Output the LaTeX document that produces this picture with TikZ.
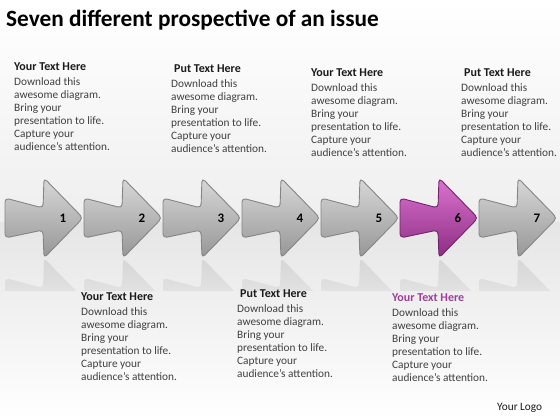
\documentclass[tikz,border=0pt]{standalone}
\usepackage{fontspec}
\setmainfont{Carlito}
\usetikzlibrary{fadings}
\definecolor{headc}{HTML}{1A1A1A}
\definecolor{bodyc}{HTML}{404040}
\definecolor{purph}{HTML}{9E3F98}
\definecolor{gtop}{HTML}{D8D8D8}
\definecolor{gbot}{HTML}{969696}
\definecolor{gedge}{HTML}{858585}
\definecolor{ptop}{HTML}{DB74D0}
\definecolor{pbot}{HTML}{8C2C82}
\definecolor{pedge}{HTML}{74226C}
\tikzset{
  chev/.pic={\path[pic actions, rounded corners=4pt]
      (0,-20) -- (38,-10) -- (39,-40) -- (78,0) -- (39,40) -- (38,12) -- (0,20) -- cycle;},
  grayarrow/.style={draw=gedge, line width=0.9pt, top color=gtop, bottom color=gbot},
  purparrow/.style={draw=pedge, line width=0.9pt, top color=ptop, bottom color=pbot},
  reflect/.style={fill=gray!60, path fading=south, opacity=0.35},
  numlbl/.style={font=\fontsize{13}{13}\selectfont\bfseries, text=black, inner sep=0pt},
  block/.style={align=left, anchor=north west, inner sep=0pt, text=bodyc,
     font=\fontsize{11.3}{13}\selectfont},
  titlec/.style={font=\fontsize{23.3}{26}\selectfont\bfseries, text=black, anchor=base west, inner sep=0pt}
}
\newcommand{\hdtxt}[1]{{\fontsize{12}{13}\selectfont\bfseries\color{headc}#1}}
\newcommand{\hdpurp}[1]{{\fontsize{12}{13}\selectfont\bfseries\color{purph}#1}}
\newcommand{\bodytxt}{Download this\\awesome diagram.\\Bring your\\presentation to life.\\Capture your\\audience’s attention.}
\begin{document}
\begin{tikzpicture}[x=1pt,y=-1pt]
\useasboundingbox (0,0) rectangle (560,420);
% background
\fill[top color=white, bottom color=gray!13] (0,0) rectangle (560,222);
\fill[top color=gray!20, bottom color=white] (0,222) rectangle (560,420);
% reflections
\begin{scope}
\clip (0,258) rectangle (560,290);
\foreach \i in {0,...,6}{
  \pic[reflect] at ({5+79*\i},298) {chev};
}
\end{scope}
% arrows
\foreach \i in {0,1,2,3,4,6}{
  \pic[grayarrow] at ({5+79*\i},218) {chev};
}
\pic[purparrow] at ({5+79*5},218) {chev};
% numbers
\foreach \i/\n in {0/1,1/2,2/3,3/4,4/5,5/6,6/7}{
  \node[numlbl] (n\n) at ({63+79*\i},218) {\n};
}
% title
\node[titlec] (title) at (6,27) {Seven different prospective of an issue};
% top text blocks
\node[block] (b1) at (14,63) {\hdtxt{Your Text Here}\\[1.5pt]\bodytxt};
\node[block] (b2) at (171,65) {\hspace{3pt}\hdtxt{Put Text Here}\\[1.5pt]\bodytxt};
\node[block] (b3) at (311,69) {\hdtxt{Your Text Here}\\[1.5pt]\bodytxt};
\node[block] (b4) at (461,69) {\hspace{3pt}\hdtxt{Put Text Here}\\[1.5pt]\bodytxt};
% bottom text blocks
\node[block] (b5) at (81,293) {\hdtxt{Your Text Here}\\[1.5pt]\bodytxt};
\node[block] (b6) at (237,290) {\hspace{3pt}\hdtxt{Put Text Here}\\[1.5pt]\bodytxt};
\node[block] (b7) at (392,294) {\hdpurp{Your Text Here}\\[1.5pt]\bodytxt};
% logo
\node[anchor=base west, inner sep=0pt, text=headc, font=\fontsize{11.3}{13}\selectfont] (logo) at (497,410) {Your Logo};
\end{tikzpicture}
\end{document}
